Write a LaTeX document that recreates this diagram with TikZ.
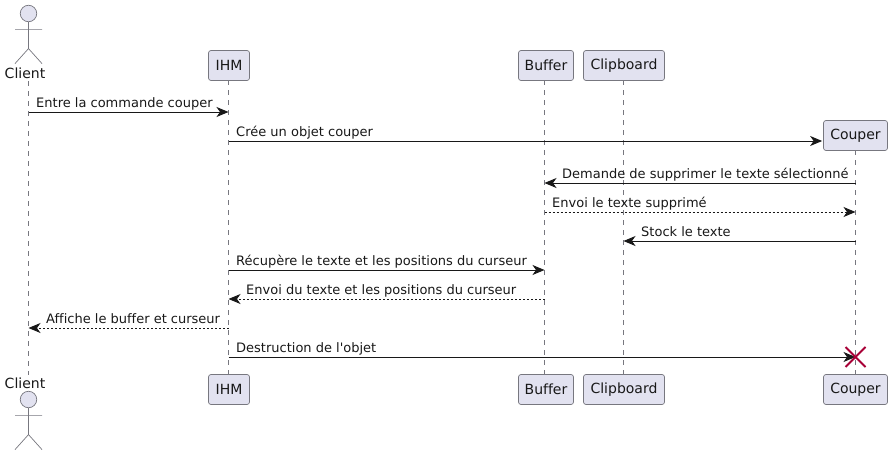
\documentclass[tikz,border=0pt]{standalone}
\usepackage{fontspec}
\setmainfont{DejaVu Sans}[Ligatures={TeXOff,NoCommon}]
\usetikzlibrary{arrows.meta}
\definecolor{partfill}{HTML}{E2E2F0}
\definecolor{partline}{HTML}{77777F}
\definecolor{msgline}{HTML}{181818}
\definecolor{crosscol}{HTML}{A80036}
\tikzset{
    part/.style={draw=partline,fill=partfill,line width=.7pt,rounded corners=2.5pt,minimum height=30pt,inner sep=0pt,text=msgline,font=\fontsize{14}{16}\selectfont},
    actorlabel/.style={inner sep=0pt,text=msgline,font=\fontsize{14}{16}\selectfont},
    actorhead/.style={circle,draw=partline,fill=partfill,line width=.7pt,minimum size=16.5pt,inner sep=0pt},
    actorline/.style={draw=partline,line width=.7pt},
    life/.style={draw=partline,line width=.6pt,dash pattern=on 5pt off 5pt},
    solidmsg/.style={draw=msgline,line width=1pt,-{Stealth[length=12pt,width=10pt,inset=3.5pt]}},
    dashmsg/.style={solidmsg,dash pattern=on 2pt off 2pt},
    msgtext/.style={anchor=base west,inner sep=0pt,text=msgline,font=\fontsize{13}{15}\selectfont},
}
\begin{document}
\begin{tikzpicture}[x=1pt,y=-1pt,>=latex]
    \useasboundingbox (0,0) rectangle (892,455);

    % lifelines first, the boxes go over them
    \coordinate (clienttop) at (28.5,81);
    \coordinate (clientend) at (28.5,375);
    \draw[life] (clienttop) -- (clientend);
    \coordinate (ihmtop) at (228.5,80);
    \coordinate (ihmend) at (228.5,375);
    \draw[life] (ihmtop) -- (ihmend);
    \coordinate (buffertop) at (544.5,80);
    \coordinate (bufferend) at (544.5,375);
    \draw[life] (buffertop) -- (bufferend);
    \coordinate (cliptop) at (623.5,80);
    \coordinate (clipend) at (623.5,375);
    \draw[life] (cliptop) -- (clipend);
    \coordinate (coupertop) at (855.5,150);
    \coordinate (couperend) at (855.5,375);
    \draw[life] (coupertop) -- (couperend);

    % participants, top and bottom
    \foreach \name/\xx/\ww/\txt in {
        ihm/229/41/IHM,
        buffer/546/55/Buffer,
        clip/624/81/Clipboard}
    {
        \node[part,minimum width=\ww pt] (\name) at (\xx,65.5) {\txt};
        \node[part,minimum width=\ww pt] (\name b) at (\xx,389.5) {\txt};
    }
    \node[part,minimum width=64pt] (couper) at (855.5,135.5) {Couper};
    \node[part,minimum width=64pt] (couperb) at (855.5,389.5) {Couper};

    % the actor
    \foreach \name/\yy/\lbl in {clienthead/13.5/73,clientheadb/399.5/383}
    {
        \node[actorhead] (\name) at (28.5,\yy) {};
        \draw[actorline] (\name.south) -- ++(0,26.5) coordinate (\name hip)
            -- ++(-13.5,15) (\name hip) -- ++(13.5,15)
            (\name.south) ++(-13.5,7.5) -- ++(27,0);
        \node[actorlabel] (\name lbl) at (25,\lbl) {Client};
    }

    % messages going right
    \foreach \a/\b/\yy/\kind/\txt in {
        clienttop/ihmtop/112/solidmsg/Entre la commande couper,
        buffertop/coupertop/212/dashmsg/Envoi le texte supprimé,
        ihmtop/buffertop/270/solidmsg/Récupère le texte et les positions du curseur}
    {
        \draw[\kind] (\a |- 0,\yy) -- (\b |- 0,\yy);
        \node[msgtext] (msg\yy) at ([xshift=7.5pt,yshift=4.5pt]\a |- 0,\yy) {\txt};
    }

    % messages going left
    \foreach \a/\b/\yy/\kind/\txt in {
        coupertop/buffertop/183/solidmsg/Demande de supprimer le texte sélectionné,
        coupertop/cliptop/241/solidmsg/Stock le texte,
        buffertop/ihmtop/299/dashmsg/Envoi du texte et les positions du curseur,
        ihmtop/clienttop/328/dashmsg/Affiche le buffer et curseur}
    {
        \draw[\kind] (\a |- 0,\yy) -- (\b |- 0,\yy);
        \node[msgtext] (msg\yy) at ([xshift=17.5pt,yshift=4.5pt]\b |- 0,\yy) {\txt};
    }

    % creation and destruction of the object
    \draw[solidmsg] (ihmtop |- 0,141) -- ([xshift=-1pt]couper.west |- 0,141);
    \node[msgtext] (msg141) at ([xshift=7.5pt,yshift=4.5pt]ihmtop |- 0,141) {Crée un objet couper};
    \draw[solidmsg] (ihmtop |- 0,357) -- (coupertop |- 0,357);
    \node[msgtext] (msg357) at ([xshift=7.5pt,yshift=4.5pt]ihmtop |- 0,357) {Destruction de l'objet};
    \coordinate (crossa) at (845.5,347);
    \coordinate (crossb) at (865.5,367);
    \coordinate (crossc) at (845.5,367);
    \coordinate (crossd) at (865.5,347);
    \draw[crosscol,line width=2pt] (crossa) -- (crossb) (crossc) -- (crossd);
\end{tikzpicture}
\end{document}
